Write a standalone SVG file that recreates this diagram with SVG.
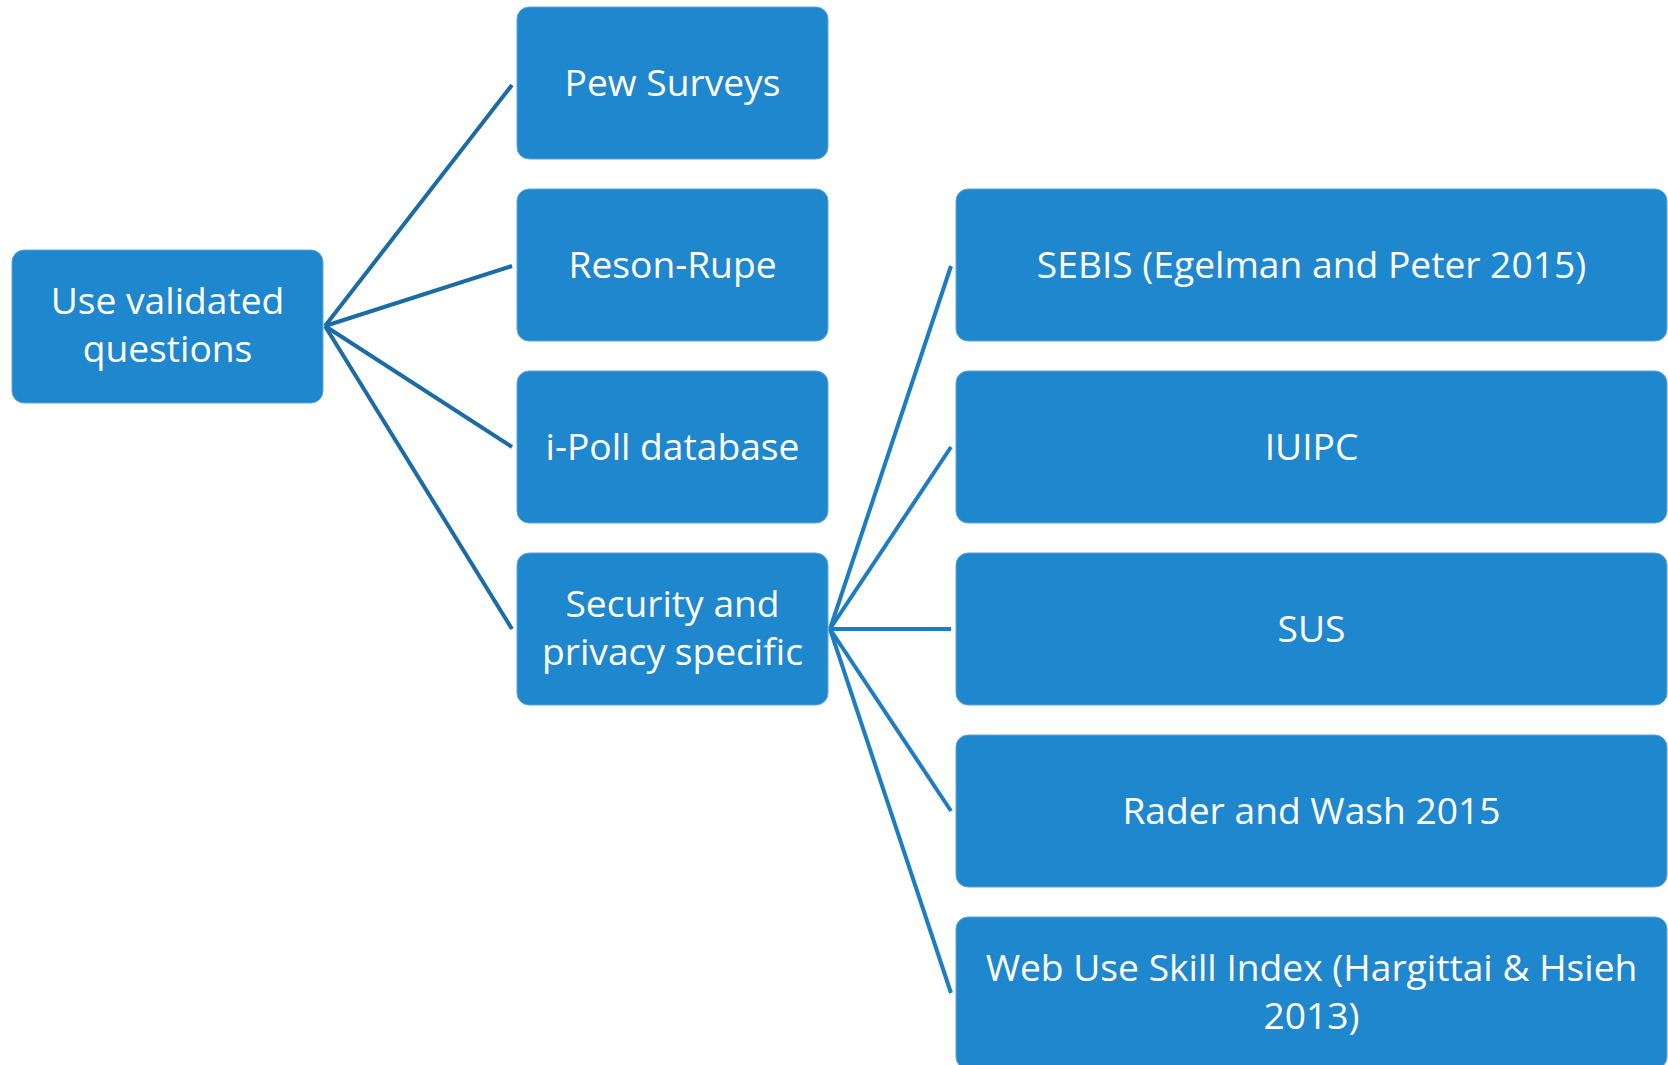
<svg xmlns="http://www.w3.org/2000/svg" width="1668" height="1065" viewBox="0 0 1668 1065">
<style>
.box{fill:#1F87CD;stroke:#5AA6DA;stroke-width:1}
.lbl{font-family:"Open Sans","Noto Sans","Liberation Sans",sans-serif;font-size:37.2px;fill:#FFFFFF;text-anchor:middle}
.c1{stroke:#1A6BA6;stroke-width:4;fill:none}
.c2{stroke:#1E7CC0;stroke-width:4;fill:none}
</style>
<rect width="1668" height="1065" fill="#FFFFFF"/>
<g id="connectors">
<line class="c1" x1="325" y1="326" x2="512" y2="85"/>
<line class="c1" x1="325" y1="326" x2="512" y2="266"/>
<line class="c1" x1="325" y1="326" x2="512" y2="447"/>
<line class="c1" x1="325" y1="326" x2="512" y2="629"/>
<line class="c2" x1="830" y1="629" x2="951" y2="266"/>
<line class="c2" x1="830" y1="629" x2="951" y2="447"/>
<line class="c2" x1="830" y1="629" x2="951" y2="629"/>
<line class="c2" x1="830" y1="629" x2="951" y2="811"/>
<line class="c2" x1="830" y1="629" x2="951" y2="993"/>
</g>
<g id="root">
<rect class="box" x="12" y="250" width="311" height="153" rx="12"/>
<text class="lbl" x="167.5" y="314">Use validated</text>
<text class="lbl" x="167.5" y="362">questions</text>
</g>
<g id="pew">
<rect class="box" x="517" y="7" width="311" height="152" rx="12"/>
<text class="lbl" x="672.5" y="96">Pew Surveys</text>
</g>
<g id="reson">
<rect class="box" x="517" y="189" width="311" height="152" rx="12"/>
<text class="lbl" x="672.5" y="278">Reson-Rupe</text>
</g>
<g id="ipoll">
<rect class="box" x="517" y="371" width="311" height="152" rx="12"/>
<text class="lbl" x="672.5" y="460">i-Poll database</text>
</g>
<g id="security">
<rect class="box" x="517" y="553" width="311" height="152" rx="12"/>
<text class="lbl" x="672.5" y="617">Security and</text>
<text class="lbl" x="672.5" y="665">privacy specific</text>
</g>
<g id="sebis">
<rect class="box" x="956" y="189" width="711" height="152" rx="12"/>
<text class="lbl" x="1311.5" y="278">SEBIS (Egelman and Peter 2015)</text>
</g>
<g id="iuipc">
<rect class="box" x="956" y="371" width="711" height="152" rx="12"/>
<text class="lbl" x="1311.5" y="460">IUIPC</text>
</g>
<g id="sus">
<rect class="box" x="956" y="553" width="711" height="152" rx="12"/>
<text class="lbl" x="1311.5" y="642">SUS</text>
</g>
<g id="rader">
<rect class="box" x="956" y="735" width="711" height="152" rx="12"/>
<text class="lbl" x="1311.5" y="824">Rader and Wash 2015</text>
</g>
<g id="webuse">
<rect class="box" x="956" y="917" width="711" height="152" rx="12"/>
<text class="lbl" x="1311.5" y="981">Web Use Skill Index (Hargittai &amp; Hsieh</text>
<text class="lbl" x="1311.5" y="1029">2013)</text>
</g>
</svg>
